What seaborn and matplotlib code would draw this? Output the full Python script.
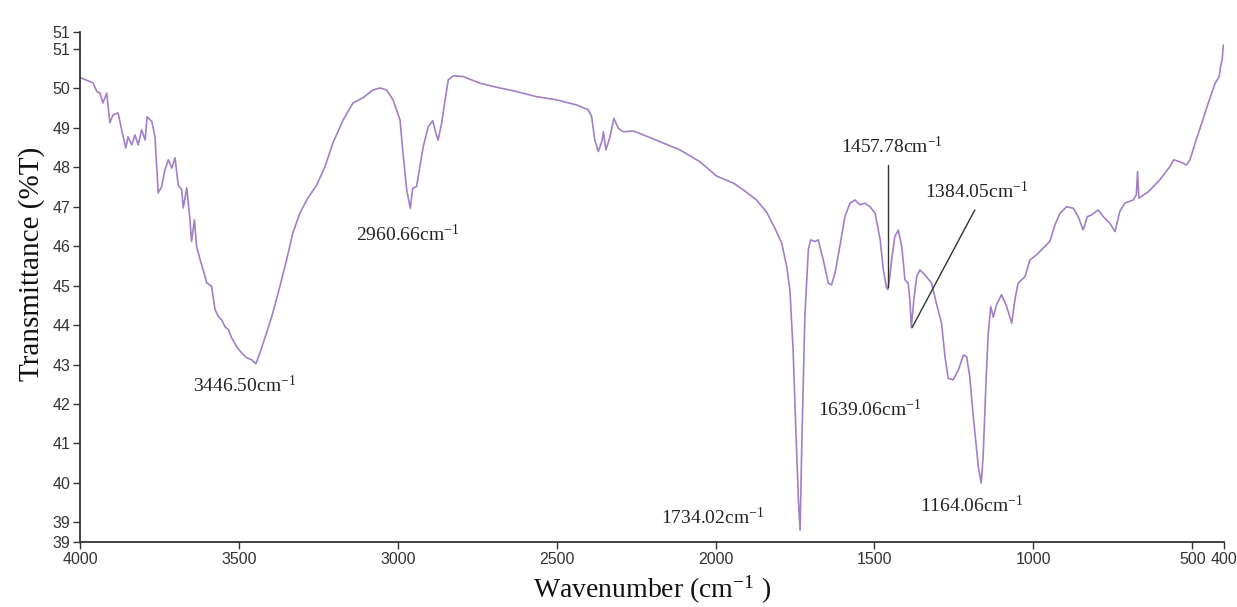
import numpy as np
import pandas as pd
import matplotlib
matplotlib.use("Agg")
import matplotlib.pyplot as plt
import seaborn as sns

# ---- data ----
wavenumber = [4000, 3995, 3959, 3947, 3937, 3928, 3916, 3906, 3896, 3880, 3869, 3856, 3849, 3837,
              3827, 3817, 3806, 3795, 3789, 3774, 3764, 3754, 3743, 3733, 3722, 3711, 3701, 3691,
              3680, 3675, 3664, 3654, 3649, 3640, 3633, 3622, 3610, 3601, 3586, 3575, 3565, 3554,
              3544, 3533, 3523, 3507, 3491, 3475, 3460, 3446.5, 3434, 3413, 3393, 3371, 3350, 3330,
              3308, 3283, 3255, 3229, 3204, 3172, 3141, 3110, 3078, 3056, 3035, 3015, 2993, 2984,
              2972, 2960.66, 2953, 2941, 2920, 2904, 2890, 2880, 2873, 2862, 2851, 2841, 2825, 2794,
              2741, 2689, 2626, 2563, 2500, 2437, 2401, 2390, 2380, 2369, 2358, 2353, 2345, 2332,
              2320, 2306, 2290, 2259, 2227, 2175, 2112, 2049, 1997, 1944, 1913, 1871, 1839, 1813,
              1792, 1776, 1766, 1756, 1747, 1739, 1734.02, 1729, 1719, 1708, 1701, 1687, 1677, 1661,
              1645, 1635, 1624, 1609, 1593, 1577, 1561, 1546, 1530, 1514, 1498, 1482, 1472, 1462,
              1457.78, 1452, 1446, 1436, 1425, 1414, 1404, 1394, 1388, 1384.05, 1376, 1367, 1357,
              1341, 1320, 1305, 1289, 1278, 1268, 1252, 1236, 1220, 1210, 1200, 1189, 1173, 1164.06,
              1158, 1149, 1142, 1134, 1126, 1116, 1100, 1084, 1068, 1058, 1048, 1026, 1011, 990,
              969, 948, 932, 916, 895, 874, 859, 843, 830, 817, 796, 780, 759, 743, 728, 712, 686,
              676, 672, 668, 638, 602, 570, 558, 539, 518, 507, 491, 470, 450, 428, 415, 411, 406, 402]
transmittance = [50.28, 50.26, 50.14, 49.92, 49.88, 49.63, 49.88, 49.13, 49.33, 49.38, 48.95, 48.49,
                 48.77, 48.57, 48.82, 48.57, 48.95, 48.69, 49.28, 49.16, 48.78, 47.35, 47.51, 47.93,
                 48.19, 47.98, 48.24, 47.55, 47.43, 46.97, 47.48, 46.67, 46.12, 46.67, 45.99, 45.66,
                 45.32, 45.07, 44.98, 44.39, 44.22, 44.13, 43.96, 43.88, 43.68, 43.45, 43.29, 43.17,
                 43.12, 43.02, 43.29, 43.80, 44.31, 44.98, 45.65, 46.34, 46.84, 47.22, 47.55, 48.02,
                 48.62, 49.20, 49.63, 49.76, 49.96, 50.01, 49.96, 49.71, 49.20, 48.40, 47.43, 46.96,
                 47.47, 47.51, 48.52, 49.03, 49.18, 48.86, 48.69, 49.12, 49.71, 50.22, 50.32, 50.30,
                 50.13, 50.03, 49.92, 49.79, 49.71, 49.58, 49.46, 49.29, 48.69, 48.40, 48.65, 48.90,
                 48.44, 48.78, 49.24, 48.99, 48.90, 48.92, 48.82, 48.65, 48.44, 48.14, 47.78, 47.60,
                 47.43, 47.17, 46.86, 46.45, 46.08, 45.48, 44.89, 43.37, 41.27, 39.50, 38.80, 40.83,
                 44.21, 45.91, 46.16, 46.12, 46.16, 45.65, 45.06, 45.02, 45.32, 45.99, 46.75, 47.09,
                 47.17, 47.05, 47.09, 47.00, 46.84, 46.16, 45.40, 44.95, 44.90, 45.20, 45.65, 46.24,
                 46.41, 45.99, 45.15, 45.06, 44.60, 43.95, 44.64, 45.23, 45.40, 45.27, 45.06, 44.55,
                 44.05, 43.20, 42.65, 42.61, 42.86, 43.24, 43.20, 42.69, 41.68, 40.41, 39.99, 40.67,
                 42.53, 43.79, 44.47, 44.20, 44.51, 44.77, 44.47, 44.05, 44.64, 45.06, 45.23, 45.65,
                 45.78, 45.95, 46.12, 46.54, 46.84, 47.00, 46.96, 46.75, 46.41, 46.75, 46.79, 46.92,
                 46.75, 46.58, 46.37, 46.88, 47.09, 47.17, 47.30, 47.89, 47.22, 47.38, 47.68, 48.02,
                 48.19, 48.14, 48.06, 48.19, 48.61, 49.12, 49.62, 50.13, 50.30, 50.55, 50.72, 51.10]

x_ticks = [4000, 3500, 3000, 2500, 2000, 1500, 1000, 500, 400]
y_ticks = [38.5, 39, 40, 41, 42, 43, 44, 45, 46, 47, 48, 49, 50, 51, 51.43]
y_tick_labels = ["39", "39", "40", "41", "42", "43", "44", "45", "46", "47", "48", "49", "50", "51", "51"]

peak_labels = ["3446.50", "2960.66", "1734.02", "1639.06", "1164.06", "1457.78", "1384.05"]
label_x = [3481, 2968, 2008, 1514, 1193, 1445, 1178]
label_y = [42.48, 46.29, 39.11, 41.85, 39.42, 48.52, 47.38]

# leader lines for two labels: (x0, y0, x1, y1)
leader_1457 = (1458, 48.06, 1458, 44.97)
leader_1384 = (1184, 46.92, 1382, 43.93)

# ---- styling ----
sns.set_theme(style="white")
plt.rcParams["font.family"] = ["Liberation Serif", "DejaVu Serif"]
plt.rcParams["mathtext.fontset"] = "custom"
plt.rcParams["mathtext.rm"] = "Liberation Serif"
plt.rcParams["mathtext.it"] = "Liberation Serif:italic"

fig = plt.figure(figsize=(12.37, 6.07), dpi=100)
ax = fig.add_axes([80 / 1237, 1 - 542 / 607, (1224 - 80) / 1237, (542 - 32) / 607])

df = pd.DataFrame({"wavenumber": wavenumber, "T": transmittance})
sns.lineplot(data=df, x="wavenumber", y="T", sort=False, estimator=None,
             color="#a27fc6", linewidth=1.2, ax=ax)

ax.set_xlim(4000, 400)
ax.set_ylim(38.5, 51.43)

ax.set_xticks(x_ticks)
ax.set_xticklabels([str(t) for t in x_ticks])
ax.set_yticks(y_ticks)
ax.set_yticklabels(y_tick_labels)

tick_font = ["Liberation Sans Narrow", "Liberation Sans", "DejaVu Sans"]
for lab in ax.get_xticklabels() + ax.get_yticklabels():
    lab.set_family(tick_font)
    lab.set_fontsize(11.5)
    lab.set_color("#333333")

ax.tick_params(axis="both", direction="out", length=5, width=1, color="#333333",
               left=True, bottom=True, pad=2)

sns.despine(ax=ax)
for s in ["left", "bottom"]:
    ax.spines[s].set_color("#333333")
    ax.spines[s].set_linewidth(1.3)

ax.set_xlabel(r"Wavenumber (cm$^{\mathregular{-1}}$ )", fontsize=20, color="#111111")
ax.set_ylabel("Transmittance (%T)", fontsize=21, color="#111111")
ax.xaxis.set_label_coords(0.5, -0.062)
ax.yaxis.set_label_coords(-0.031, 0.545)

for lab, lx, ly in zip(peak_labels, label_x, label_y):
    ax.text(lx, ly, lab + r"cm$^{\mathregular{-1}}$", fontsize=14, color="#222222",
            ha="center", va="center")

for (x0, y0, x1, y1) in [leader_1457, leader_1384]:
    ax.plot([x0, x1], [y0, y1], color="#333333", linewidth=1.0)

fig.savefig("out.png", dpi=100, facecolor="white")
